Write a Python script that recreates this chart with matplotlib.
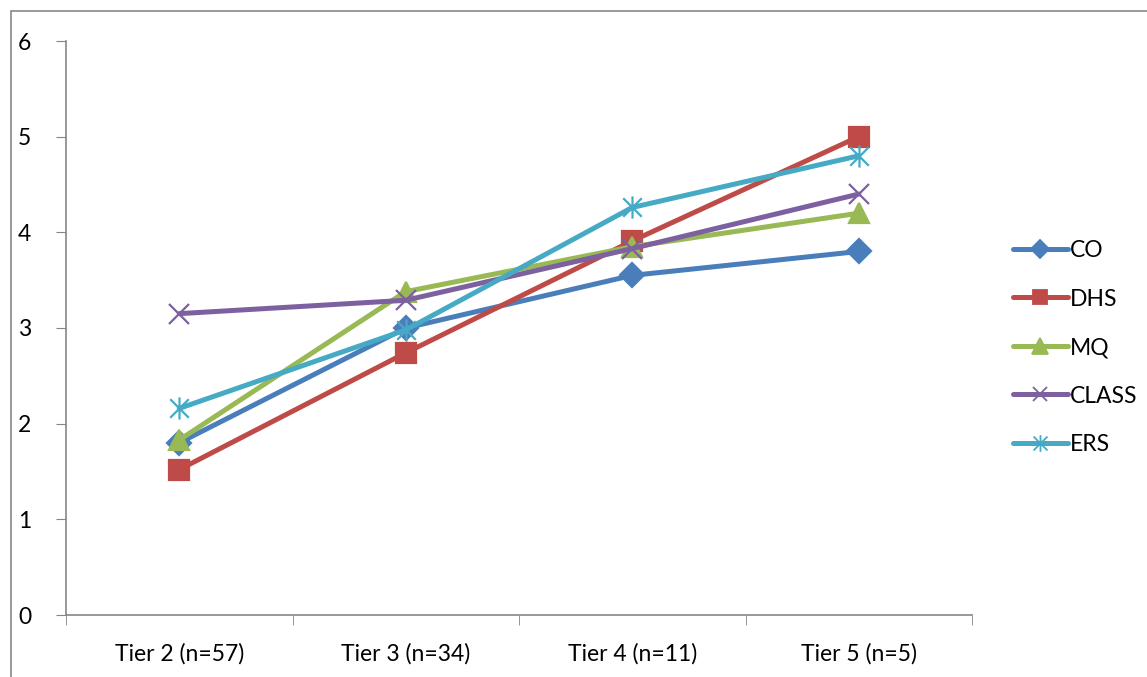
import matplotlib
matplotlib.use("Agg")
import matplotlib.pyplot as plt
from matplotlib.lines import Line2D
from matplotlib.patches import Rectangle
from matplotlib.path import Path
import numpy as np

tiers = ['Tier 2 (n=57)', 'Tier 3 (n=34)', 'Tier 4 (n=11)', 'Tier 5 (n=5)']
co = [1.80, 3.00, 3.55, 3.80]
dhs = [1.52, 2.74, 3.91, 5.00]
mq = [1.83, 3.38, 3.85, 4.20]
class_ = [3.15, 3.29, 3.83, 4.40]
ers = [2.16, 2.98, 4.26, 4.80]

# asterisk-like marker (x plus vertical bar)
star = Path([(-0.5, -0.5), (0.5, 0.5), (-0.5, 0.5), (0.5, -0.5), (0, -0.6), (0, 0.6)],
            [Path.MOVETO, Path.LINETO, Path.MOVETO, Path.LINETO, Path.MOVETO, Path.LINETO])

series = [
    ('CO', co, '#4A7EBB', 'D', 12),
    ('DHS', dhs, '#BE4B48', 's', 14),
    ('MQ', mq, '#98B954', '^', 15),
    ('CLASS', class_, '#7D60A0', 'x', 14),
    ('ERS', ers, '#46AAC5', star, 16),
]

plt.rcParams['font.family'] = ['Lato', 'DejaVu Sans']

fig = plt.figure(figsize=(11.47, 6.77), dpi=100)
ax = fig.add_axes([66 / 1147, 62 / 677, 906 / 1147, 574 / 677])

x = np.arange(len(tiers)) + 0.5
handles = []
for name, vals, color, mk, ms in series:
    ax.plot(x, vals, color=color, lw=3.6, marker=mk, markersize=ms,
            markeredgecolor=color, markerfacecolor=color, markeredgewidth=1.6,
            solid_capstyle='round')
    handles.append(Line2D([], [], color=color, lw=3.6, marker=mk,
                          markersize=ms * 0.75, markeredgecolor=color,
                          markerfacecolor=color, markeredgewidth=1.3,
                          solid_capstyle='round', label=name))

ax.set_xlim(0, len(tiers))
ax.set_ylim(0, 6)
ax.set_yticks(range(0, 7))
ax.set_xticks(x)
ax.set_xticklabels(tiers, fontsize=16.5)
ax.set_xticks(np.arange(len(tiers) + 1), minor=True)
ax.tick_params(axis='x', which='major', length=0, pad=20)
ax.tick_params(axis='x', which='minor', length=7, direction='out', color='#868686')
ax.tick_params(axis='y', length=7, direction='out', color='#868686', pad=18, labelsize=16.5)
for s in ['top', 'right']:
    ax.spines[s].set_visible(False)
for s in ['left', 'bottom']:
    ax.spines[s].set_color('#868686')
    ax.spines[s].set_linewidth(1.2)

ax.legend(handles=handles, loc='center left', bbox_to_anchor=(1.045, 0.466),
          frameon=False, fontsize=16.5, handlelength=2.4, handletextpad=0.1,
          labelspacing=1.2, borderpad=0, borderaxespad=0)

fig.patches.append(Rectangle((11 / 1147, -0.1), 1.2, 1.1 - 11 / 677,
                             transform=fig.transFigure, fill=False,
                             edgecolor='#878787', lw=1.2, clip_on=False))

fig.savefig('out.png', dpi=100)
